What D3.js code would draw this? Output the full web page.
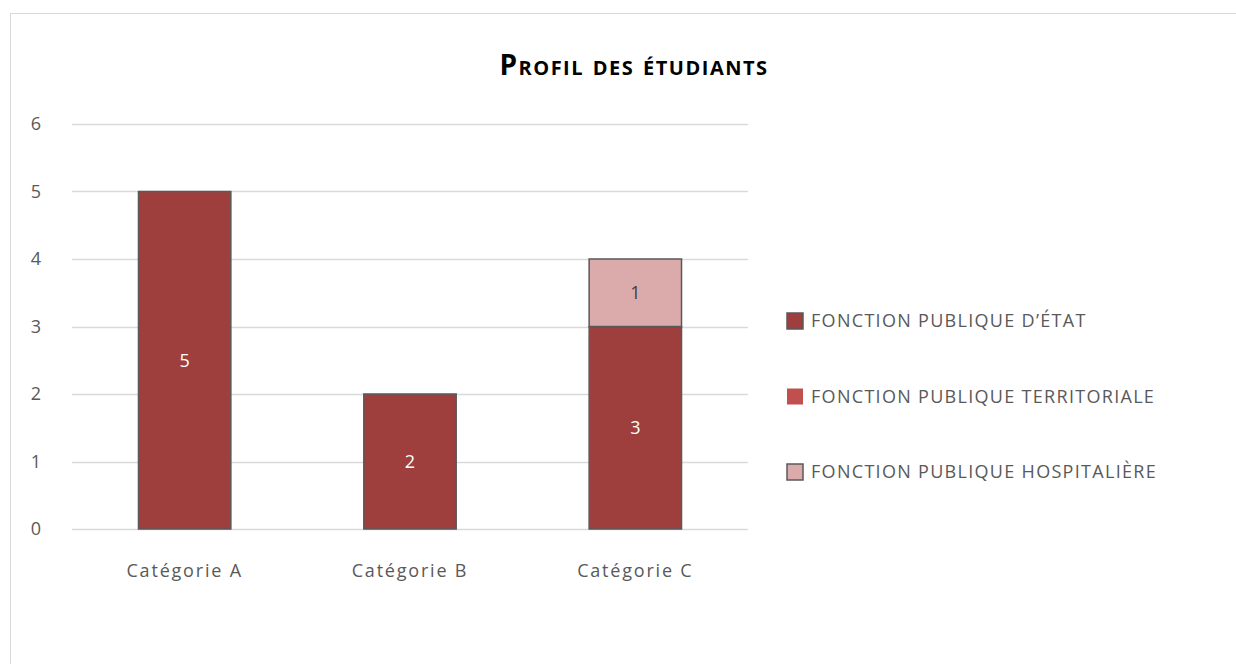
<!DOCTYPE html>
<html>
<head>
<meta charset="utf-8">
<script src="https://cdn.jsdelivr.net/npm/d3@7"></script>
<style>
    body { margin: 0; background: #fff; }
    #chart { width: 1236px; height: 664px; }
    text { font-family: "Open Sans", "DejaVu Sans", sans-serif; }
</style>
</head>
<body>
<div id="chart"></div>
<script>
const categories = ['Catégorie A', 'Catégorie B', 'Catégorie C'];
const seriesNames = ['FONCTION PUBLIQUE D\u2019ÉTAT', 'FONCTION PUBLIQUE TERRITORIALE', 'FONCTION PUBLIQUE HOSPITALIÈRE'];
const etat = [5, 2, 3];
const territoriale = [0, 0, 0];
const hospitaliere = [0, 0, 1];
const yTicks = [0, 1, 2, 3, 4, 5, 6];

const colors = ['#9E3F3D', '#C0504D', '#DBABAB'];
const labelColors = ['#ffffff', '#ffffff', '#404040'];

const width = 1236, height = 664;
const margin = { top: 124, left: 72, right: 488, bottom: 135 };
const plotW = width - margin.left - margin.right;
const plotH = height - margin.top - margin.bottom;

const svg = d3.select('#chart').append('svg')
    .attr('width', width)
    .attr('height', height);

// outer chart frame
svg.append('rect')
    .attr('x', 10.5).attr('y', 13.5)
    .attr('width', 1300).attr('height', 700)
    .attr('fill', 'none')
    .attr('stroke', '#d9d9d9');

const g = svg.append('g').attr('transform', `translate(${margin.left},${margin.top})`);

const x = d3.scaleBand().domain(categories).range([0, plotW]).paddingInner(0.59).paddingOuter(0.295);
const y = d3.scaleLinear().domain([0, 6]).range([plotH, 0]);

// gridlines
g.append('g').selectAll('line')
    .data(yTicks)
    .enter().append('line')
    .attr('x1', 0).attr('x2', plotW)
    .attr('y1', d => Math.round(y(d)) + 0.5)
    .attr('y2', d => Math.round(y(d)) + 0.5)
    .attr('stroke', '#d9d9d9')
    .attr('stroke-width', 1.5);

// y labels
g.append('g').selectAll('text')
    .data(yTicks)
    .enter().append('text')
    .attr('x', -36)
    .attr('y', d => y(d))
    .attr('dy', '0.35em')
    .attr('text-anchor', 'middle')
    .attr('fill', '#595959')
    .style('font-size', '18px')
    .text(d => d);

// stack
const rows = categories.map((c, i) => ({ cat: c, s0: etat[i], s1: territoriale[i], s2: hospitaliere[i] }));
const stack = d3.stack().keys(['s0', 's1', 's2']);
const layers = stack(rows);

layers.forEach((layer, li) => {
    const lg = g.append('g');
    lg.selectAll('rect')
        .data(layer.filter(d => d[1] - d[0] > 0))
        .enter().append('rect')
        .attr('x', d => x(d.data.cat))
        .attr('y', d => y(d[1]))
        .attr('width', x.bandwidth())
        .attr('height', d => y(d[0]) - y(d[1]))
        .attr('fill', colors[li])
        .attr('stroke', '#595959')
        .attr('stroke-width', 1.5);
    lg.selectAll('text')
        .data(layer.filter(d => d[1] - d[0] > 0))
        .enter().append('text')
        .attr('x', d => x(d.data.cat) + x.bandwidth() / 2)
        .attr('y', d => (y(d[0]) + y(d[1])) / 2)
        .attr('dy', '0.35em')
        .attr('text-anchor', 'middle')
        .attr('fill', labelColors[li])
        .style('font-size', '18px')
        .text(d => d[1] - d[0]);
});

// category labels
g.append('g').selectAll('text')
    .data(categories)
    .enter().append('text')
    .attr('x', d => x(d) + x.bandwidth() / 2)
    .attr('y', plotH + 48)
    .attr('text-anchor', 'middle')
    .attr('fill', '#595959')
    .style('font-size', '18px')
    .style('letter-spacing', '1.8px')
    .text(d => d);

// title
svg.append('text')
    .attr('x', 634)
    .attr('y', 75)
    .attr('text-anchor', 'middle')
    .attr('fill', '#000')
    .style('font-size', '28px')
    .style('font-weight', 'bold')
    .style('font-variant', 'small-caps')
    .style('letter-spacing', '1.5px')
    .text('Profil des étudiants');

// legend
const legend = svg.append('g').selectAll('g')
    .data(seriesNames)
    .enter().append('g')
    .attr('transform', (d, i) => `translate(787,${321 + i * 75.5})`);

legend.append('rect')
    .attr('x', 0).attr('y', -8)
    .attr('width', 16).attr('height', 16)
    .attr('fill', (d, i) => colors[i])
    .attr('stroke', (d, i) => i === 1 ? 'none' : '#595959')
    .attr('stroke-width', 1.5);

legend.append('text')
    .attr('x', 24)
    .attr('dy', '0.35em')
    .attr('fill', '#595959')
    .style('font-size', '18px')
    .style('letter-spacing', '1.3px')
    .text(d => d);
</script>
</body>
</html>
